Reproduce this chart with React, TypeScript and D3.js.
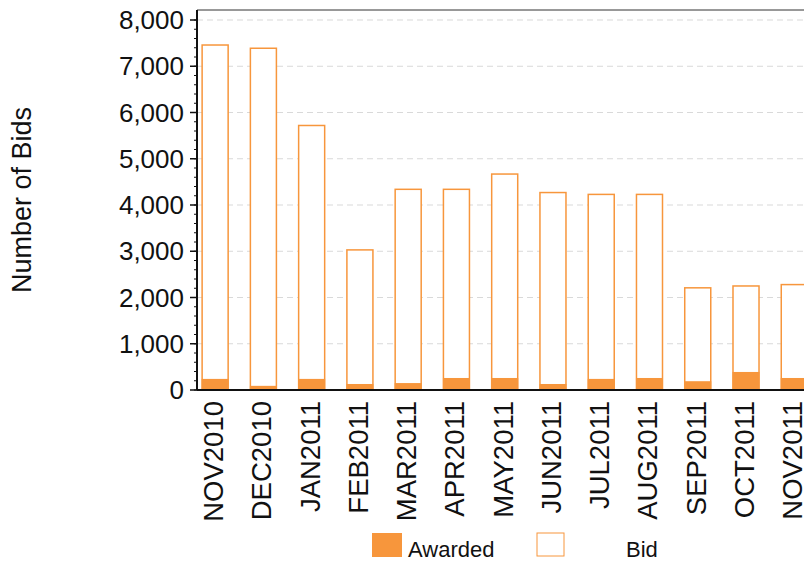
import * as d3 from "d3"

const months = ["NOV2010","DEC2010","JAN2011","FEB2011","MAR2011","APR2011","MAY2011","JUN2011","JUL2011","AUG2011","SEP2011","OCT2011","NOV2011"]
const bid = [7470, 7400, 5730, 3040, 4350, 4350, 4680, 4280, 4240, 4240, 2220, 2260, 2290]
const awarded = [240, 90, 240, 130, 150, 260, 260, 130, 240, 260, 190, 390, 260]
const yTicks = [0, 1000, 2000, 3000, 4000, 5000, 6000, 7000, 8000]

const ORANGE = "#f7963c"
const FONT = "Liberation Sans, Arial, sans-serif"

export default function App() {
  const W = 804, H = 563
  const top = 10, bottom = 390, left = 197
  const x = d3.scaleBand<string>().domain(months).range([191, 818.4]).paddingInner(0.44).paddingOuter(0.22)
  const y = d3.scaleLinear().domain([0, 8000]).range([bottom, 20])
  const minor = d3.range(0, 8001, 200)
  return (
    <svg width={W} height={H} style={{ position: "absolute", left: 0, top: 0, fontFamily: FONT }}>
      <rect width={W} height={H} fill="white" />
      {yTicks.slice(1).map(t => (
        <line key={t} x1={left} x2={W} y1={y(t)} y2={y(t)} stroke="#d9d9d9" strokeDasharray="6,4" />
      ))}
      <line x1={left} x2={W} y1={top} y2={top} stroke="#333" />
      {months.map((m, i) => (
        <g key={m}>
          <rect x={x(m)! + 0.5} y={y(bid[i]) + 0.5} width={x.bandwidth() - 1} height={bottom - y(bid[i]) - 0.5} fill="white" stroke={ORANGE} strokeWidth={1.5} />
          <rect x={x(m)!} y={y(awarded[i])} width={x.bandwidth()} height={bottom - y(awarded[i])} fill={ORANGE} />
          <text transform={`translate(${x(m)! + x.bandwidth() / 2 + 8},401) rotate(-90)`} textAnchor="end" fontSize={27.5} fill="#111">{m}</text>
        </g>
      ))}
      <line x1={left} x2={W} y1={bottom} y2={bottom} stroke="#111" strokeWidth={2} />
      <line x1={left} x2={left} y1={top} y2={bottom} stroke="#111" strokeWidth={2} />
      {minor.map(t => (
        <line key={t} x1={left - 3} x2={left} y1={y(t)} y2={y(t)} stroke="#111" />
      ))}
      {yTicks.map(t => (
        <g key={t}>
          <line x1={left - 7} x2={left} y1={y(t)} y2={y(t)} stroke="#111" strokeWidth={1.5} />
          <text x={left - 13} y={y(t) + 9} textAnchor="end" fontSize={26} fill="#111">{d3.format(",")(t)}</text>
        </g>
      ))}
      <text transform="translate(31,200) rotate(-90)" textAnchor="middle" fontSize={27} fill="#111">Number of Bids</text>
      <rect x={372} y={533} width={30} height={24} fill={ORANGE} />
      <text x={408} y={557} fontSize={22} fill="#111">Awarded</text>
      <rect x={537} y={533} width={27} height={23} fill="white" stroke={ORANGE} />
      <text x={626} y={557} fontSize={22} fill="#111">Bid</text>
    </svg>
  )
}
